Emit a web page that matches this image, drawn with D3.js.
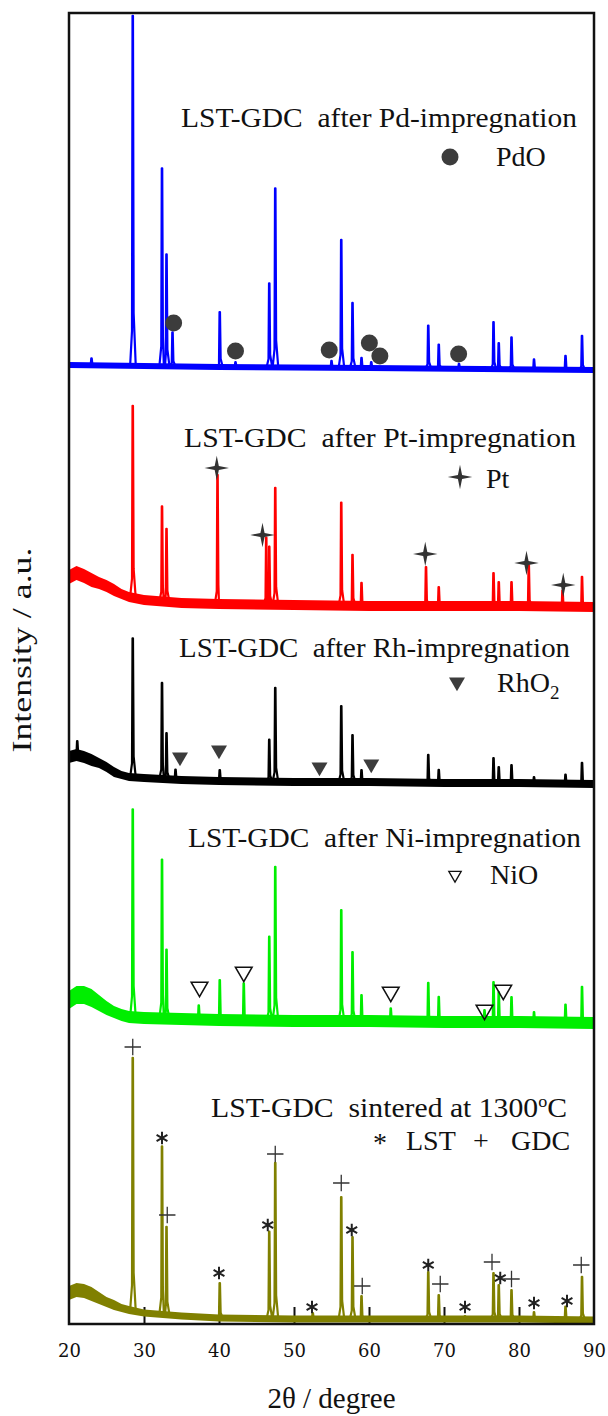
<!DOCTYPE html>
<html>
<head>
<meta charset="utf-8">
<script src="https://cdn.jsdelivr.net/npm/d3@7"></script>
<style>
  body { margin: 0; background: #fff; }
  svg { display: block; }
  text { font-family: "Liberation Serif", "Times New Roman", serif; fill: #111; }
</style>
</head>
<body>
<div id="chart"></div>
<script>
// ---- data (2theta in degrees, intensity in a.u.) ----
var xTicks = [20, 30, 40, 50, 60, 70, 80, 90];

var titles = ["LST-GDC  after Pd-impregnation", "LST-GDC  after Pt-impregnation",
              "LST-GDC  after Rh-impregnation", "LST-GDC  after Ni-impregnation",
              "LST-GDC  sintered at 1300"];

// background: [2theta, level, noise half-width]
var pdBackground = [[20, 95.9, 0.3], [40, 95.7, 0.3], [60, 95.6, 0.3], [90, 95.4, 0.3]];
// peaks: [2theta, height above background]
var pdPeaks = [[23.0, 0.7], [28.5, 35.0], [32.4, 19.8], [33.0, 11.2], [33.8, 3.4], [40.1, 5.5],
               [42.2, 0.5], [46.7, 8.4], [47.5, 17.9], [55.0, 0.7], [56.3, 12.8], [57.8, 6.5],
               [59.0, 1.0], [60.3, 0.6], [67.9, 4.3], [69.3, 2.4], [72.0, 0.5], [76.6, 4.7],
               [77.3, 2.6], [79.0, 3.2], [82.0, 1.0], [86.2, 1.4], [88.4, 3.4]];
var pdOMarks = [[33.95, 100.1], [42.2, 97.3], [54.7, 97.4], [60.05, 98.1], [61.45, 96.8], [71.95, 97.0]];

var ptBackground = [[20, 74.7, 0.7], [21, 75.1, 0.7], [22, 74.8, 0.7], [23, 74.4, 0.7], [24, 74.1, 0.6],
                    [25, 73.8, 0.6], [26, 73.4, 0.6], [27, 73.0, 0.5], [28, 72.7, 0.5], [30, 72.4, 0.5],
                    [35, 72.1, 0.5], [40, 72.0, 0.5], [50, 71.9, 0.5], [60, 71.8, 0.5], [70, 71.8, 0.5],
                    [80, 71.8, 0.5], [90, 71.7, 0.5]];
var ptPeaks = [[28.5, 19.2], [32.4, 9.5], [33.0, 7.3], [39.8, 12.9], [46.3, 6.7], [46.7, 5.8],
               [47.5, 11.7], [56.3, 10.3], [57.8, 5.1], [59.0, 2.3], [67.6, 3.9], [69.3, 1.9],
               [76.6, 3.3], [77.3, 2.4], [79.0, 2.4], [81.3, 4.1], [85.8, 1.6], [88.4, 3.0]];
var ptMarks = [[39.7, 85.6], [45.8, 78.9], [67.5, 77.0], [81.0, 76.1], [85.9, 73.9]];

var rhBackground = [[20, 56.7, 0.6], [21, 56.9, 0.6], [22, 56.7, 0.6], [23, 56.4, 0.6], [24, 56.1, 0.5],
                    [25, 55.7, 0.5], [26, 55.2, 0.5], [27, 54.9, 0.4], [28, 54.7, 0.4], [30, 54.6, 0.4],
                    [35, 54.4, 0.4], [40, 54.3, 0.4], [50, 54.2, 0.4], [60, 54.2, 0.4], [70, 54.1, 0.4],
                    [80, 54.1, 0.4], [90, 54.0, 0.4]];
var rhPeaks = [[21.1, 1.4], [28.5, 13.9], [32.4, 9.6], [33.0, 4.6], [34.2, 1.0], [40.1, 1.1],
               [46.7, 4.2], [47.5, 9.4], [56.3, 7.6], [57.8, 4.7], [59.0, 1.2], [67.9, 2.8],
               [69.3, 1.3], [76.6, 2.5], [77.3, 1.6], [79.0, 1.8], [82.0, 0.6], [86.2, 0.9], [88.4, 2.1]];
var rhO2Marks = [[34.8, 56.7], [40.0, 57.4], [53.4, 55.7], [60.3, 56.0]];

var niBackground = [[20, 32.4, 0.9], [21, 32.9, 0.9], [22, 32.9, 0.9], [23, 32.6, 0.9], [24, 32.1, 0.8],
                    [25, 31.6, 0.7], [26, 31.2, 0.6], [27, 30.9, 0.6], [28, 30.7, 0.6], [30, 30.6, 0.6],
                    [35, 30.5, 0.6], [40, 30.4, 0.6], [50, 30.3, 0.6], [60, 30.3, 0.6], [70, 30.2, 0.6],
                    [80, 30.2, 0.6], [90, 30.1, 0.6]];
var niPeaks = [[28.5, 20.8], [32.4, 15.9], [33.0, 6.9], [37.3, 1.4], [40.1, 4.0], [43.3, 3.7],
               [46.7, 8.4], [47.5, 15.4], [56.3, 11.1], [57.8, 6.9], [59.0, 2.6], [62.9, 1.3],
               [67.9, 3.9], [69.3, 2.5], [75.4, 1.2], [76.6, 4.0], [77.3, 3.0], [79.0, 2.5],
               [82.0, 1.0], [86.2, 1.8], [88.4, 3.6]];
var niOMarks = [[37.4, 33.7], [43.3, 35.2], [62.9, 33.2], [75.4, 31.4], [77.9, 33.4]];

var sinteredBackground = [[20, 3.1, 0.7], [21, 3.4, 0.7], [22, 3.3, 0.7], [23, 3.0, 0.7], [24, 2.6, 0.6],
                          [25, 2.2, 0.5], [26, 1.9, 0.5], [27, 1.6, 0.4], [28, 1.4, 0.4], [30, 1.1, 0.35],
                          [35, 0.8, 0.35], [40, 0.6, 0.35], [50, 0.5, 0.35], [60, 0.5, 0.35], [70, 0.5, 0.35],
                          [80, 0.5, 0.35], [90, 0.4, 0.35]];
var sinteredPeaks = [[28.5, 25.3], [32.4, 16.8], [33.0, 8.8], [40.1, 3.5], [46.7, 8.7], [47.5, 15.6],
                     [52.5, 0.6], [56.3, 12.2], [57.8, 8.2], [59.0, 2.3], [67.9, 4.7], [69.3, 2.4],
                     [72.8, 0.3], [76.6, 4.6], [77.3, 3.4], [79.0, 2.9], [82.0, 0.7], [86.2, 1.3], [88.4, 4.3]];
var lstMarks = [[32.4, 18.6], [40.0, 5.1], [46.5, 9.9], [52.4, 1.7], [57.7, 9.4], [67.9, 5.9],
                [72.8, 1.7], [77.5, 4.6], [82.0, 2.1], [86.4, 2.3]];
var gdcMarks = [[28.5, 27.7], [33.1, 10.9], [47.5, 17.0], [56.3, 14.1], [59.1, 3.8], [69.5, 4.0],
                [76.4, 6.2], [79.0, 4.5], [88.3, 5.9]];

// ---- layout ----
var W = 608, H = 1416;
var x = d3.scaleLinear().domain([20, 90]).range([69, 594]);
var y = d3.scaleLinear().domain([0, 131.1]).range([1324, 13]);
var markColor = "#3c3c3c";

var svg = d3.select("#chart").append("svg")
    .attr("width", W)
    .attr("height", H);

// inward ticks on the bottom axis
svg.append("g")
    .attr("transform", "translate(0," + y(0) + ")")
    .call(d3.axisBottom(x).tickValues(xTicks.slice(1, -1)).tickSizeInner(-17).tickSizeOuter(0).tickFormat(""))
    .call(function(g) { g.select(".domain").remove(); })
    .selectAll("line").attr("stroke", "#111").attr("stroke-width", 2);

// tick labels
svg.append("g")
    .attr("transform", "translate(0," + y(0) + ")")
    .call(d3.axisBottom(x).tickValues(xTicks).tickSize(0).tickPadding(20))
    .call(function(g) { g.select(".domain").remove(); })
    .selectAll("text")
    .style("font-family", "'DejaVu Serif', serif")
    .style("font-size", "18px")
    .attr("fill", "#111");

function drawPattern(bg, peaks, color) {
    var base = d3.scaleLinear().domain(bg.map(function(d) { return d[0]; })).range(bg.map(function(d) { return d[1]; }));

    // noisy baseline band
    var band = d3.area()
        .x(function(d) { return x(d[0]); })
        .y0(function(d) { return y(d[1] - d[2]); })
        .y1(function(d) { return y(d[1] + d[2]); });
    svg.append("path").datum(bg).attr("d", band).attr("fill", color);

    var pts = bg.map(function(d) { return [d[0], d[1]]; });
    peaks.forEach(function(p) {
        var t = p[0], h = p[1];
        pts.push([t - 0.35, base(t - 0.35)]);
        pts.push([t - 0.1, base(t) + h * 0.1]);
        pts.push([t - 0.03, base(t) + h]);
        pts.push([t + 0.03, base(t) + h]);
        pts.push([t + 0.12, base(t) + h * 0.15]);
        pts.push([t + 0.4, base(t + 0.4)]);
    });
    pts.sort(function(a, b) { return a[0] - b[0]; });

    var line = d3.line().x(function(d) { return x(d[0]); }).y(function(d) { return y(d[1]); });
    svg.append("path").datum(pts)
        .attr("d", line)
        .attr("fill", "none")
        .attr("stroke", color)
        .attr("stroke-width", 2.2)
        .attr("stroke-linejoin", "round");
}

drawPattern(sinteredBackground, sinteredPeaks, "#808000");
drawPattern(niBackground, niPeaks, "#00ee00");
drawPattern(rhBackground, rhPeaks, "#000000");
drawPattern(ptBackground, ptPeaks, "#ff0000");
drawPattern(pdBackground, pdPeaks, "#0000ff");

// four-point star for Pt
var star4 = {
    draw: function(ctx, size) {
        var r = Math.sqrt(size), q = r * 0.17;
        ctx.moveTo(0, -r); ctx.lineTo(q, -q); ctx.lineTo(r, 0); ctx.lineTo(q, q);
        ctx.lineTo(0, r); ctx.lineTo(-q, q); ctx.lineTo(-r, 0); ctx.lineTo(-q, -q);
        ctx.closePath();
    }
};

function marks(data, type, size, opts) {
    svg.append("g").selectAll("path")
        .data(data)
        .join("path")
        .attr("transform", function(d) { return "translate(" + x(d[0]) + "," + y(d[1]) + ")" + (opts.rotate ? " rotate(180)" : ""); })
        .attr("d", d3.symbol().type(type).size(size))
        .attr("fill", opts.fill || "none")
        .attr("stroke", opts.stroke || "none")
        .attr("stroke-width", opts.width || 0);
}

marks(pdOMarks, d3.symbolCircle, 227, { fill: markColor });
marks(ptMarks, star4, 150, { fill: "#333" });
marks(rhO2Marks, d3.symbolTriangle, 111, { fill: markColor, rotate: true });
marks(niOMarks, d3.symbolTriangle2, 200, { stroke: "#111", width: 1.5, rotate: true });
marks(lstMarks, d3.symbolAsterisk, 110, { stroke: "#222", width: 2 });
marks(gdcMarks, d3.symbolPlus, 90, { stroke: "#333", width: 1.3 });

// frame
svg.append("rect")
    .attr("x", x(20)).attr("y", y(131.1))
    .attr("width", x(90) - x(20)).attr("height", y(0) - y(131.1))
    .attr("fill", "none").attr("stroke", "#111").attr("stroke-width", 2.5);

// panel titles
var titleX = [181, 184, 179, 188, 211];
var titleY = [127, 447, 657, 847, 1117];
var titleW = [396, 392, 391, 393, 356];
titles.forEach(function(t, i) {
    var tx = svg.append("text")
        .attr("x", titleX[i]).attr("y", titleY[i])
        .attr("textLength", titleW[i])
        .attr("lengthAdjust", "spacingAndGlyphs")
        .style("font-size", "28px")
        .style("white-space", "pre")
        .text(t);
    if (i === 4) {
        tx.append("tspan").attr("dy", -10).style("font-size", "17px").text("o");
        tx.append("tspan").attr("dy", 10).text("C");
    }
});

// phase legends
function legendSymbol(type, size, px, py, opts) {
    svg.append("path")
        .attr("transform", "translate(" + px + "," + py + ")" + (opts.rotate ? " rotate(180)" : ""))
        .attr("d", d3.symbol().type(type).size(size)())
        .attr("fill", opts.fill || "none")
        .attr("stroke", opts.stroke || "none")
        .attr("stroke-width", opts.width || 0);
}
function legendText(t, px, py) {
    return svg.append("text").attr("x", px).attr("y", py).style("font-size", "28px").text(t);
}

legendSymbol(d3.symbolCircle, 227, 450, 157, { fill: markColor });
legendText("PdO", 496, 166);

legendSymbol(star4, 150, 460, 477, { fill: "#333" });
legendText("Pt", 486, 488);

legendSymbol(d3.symbolTriangle, 111, 457, 682, { fill: markColor, rotate: true });
var rh = legendText("RhO", 497, 692);
rh.append("tspan").attr("dy", 7).style("font-size", "19px").text("2");

legendSymbol(d3.symbolTriangle2, 110, 455, 875, { stroke: "#111", width: 1.3, rotate: true });
legendText("NiO", 490, 884);

legendText("*", 380, 1152).attr("text-anchor", "middle");
legendText("LST", 406, 1150);
legendText("+", 481, 1150).attr("text-anchor", "middle");
legendText("GDC", 511, 1150);

// axis titles
svg.append("text")
    .attr("x", (x(20) + x(90)) / 2).attr("y", 1408)
    .attr("text-anchor", "middle")
    .style("font-size", "29px")
    .text("2\u03b8 / degree");

svg.append("text")
    .attr("transform", "translate(31,650) rotate(-90)")
    .attr("text-anchor", "middle")
    .attr("textLength", 205)
    .attr("lengthAdjust", "spacingAndGlyphs")
    .style("font-size", "28px")
    .text("Intensity / a.u.");
</script>
</body>
</html>
